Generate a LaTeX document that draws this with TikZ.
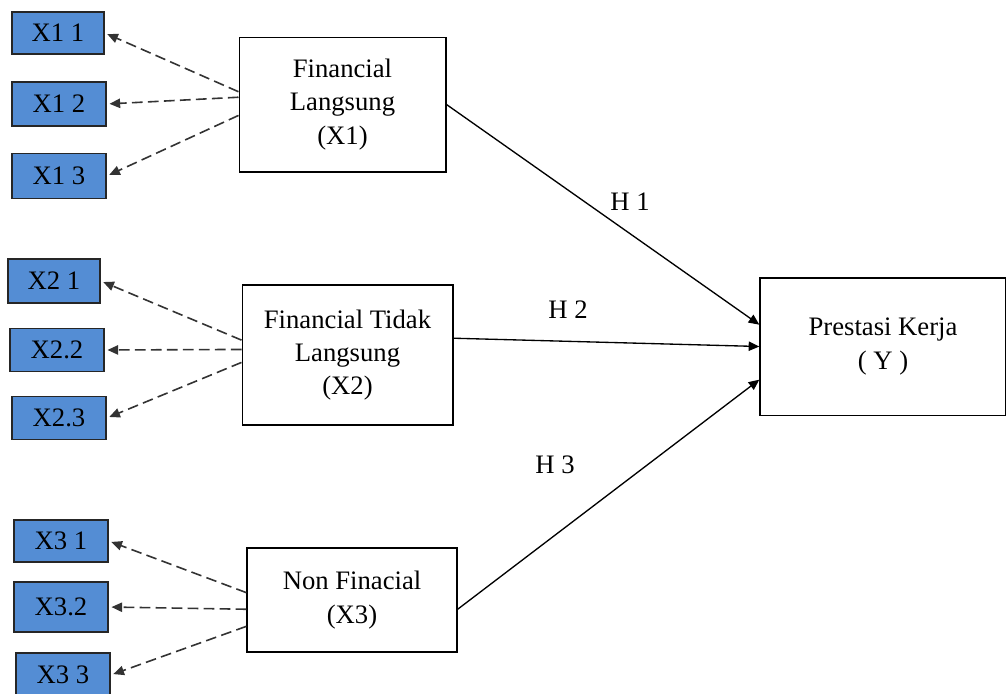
\documentclass[tikz,border=0pt]{standalone}
\usepackage{fontspec}
\setmainfont{Liberation Serif}
\usetikzlibrary{arrows.meta}

\tikzset{every picture/.style={line width=0.75pt}}
\tikzset{
  indbox/.style={draw=black!85, line width=1.2pt, fill=indblue, inner sep=0pt, font=\fontsize{20}{25}\selectfont},
  varbox/.style={draw, line width=1pt, inner sep=0pt, align=center, font=\fontsize{20}{25}\selectfont},
  dasharr/.style={dash pattern=on 8pt off 4pt, line width=1.2pt, draw=black!80, -{Triangle[length=8pt,width=7pt]}, shorten >=2pt},
  patharr/.style={line width=1pt, -{Triangle[length=8pt,width=7pt]}},
  hlabel/.style={font=\fontsize{20}{25}\selectfont}
}
\definecolor{indblue}{RGB}{84,141,212}

\begin{document}
\begin{tikzpicture}[x=0.75pt,y=0.75pt,yscale=-1,xscale=1]
		\useasboundingbox (0,0) rectangle (1006,693);
		%Shape: Rectangle [id:fl]
		\node (fl) at (342.5,104.5) [varbox, minimum width=155pt, minimum height=101pt] {Financial\\Langsung\\(X1)};
		%Shape: Rectangle [id:ftl]
		\node (ftl) at (347.5,355) [varbox, minimum width=158pt, minimum height=105pt] {Financial Tidak\\Langsung\\(X2)};
		%Shape: Rectangle [id:nf]
		\node (nf) at (352,600) [varbox, minimum width=157.5pt, minimum height=78pt] {Non Finacial\\(X3)};
		%Shape: Rectangle [id:pk]
		\node (pk) at (883,346.5) [varbox, minimum width=184.5pt, minimum height=103pt] {Prestasi Kerja\\( Y )};
		% Indicator boxes
		\node (x11) at (58,33) [indbox, minimum width=69pt, minimum height=31.5pt] {X1 1};
		\node (x12) at (59,104) [indbox, minimum width=70.5pt, minimum height=33pt] {X1 2};
		\node (x13) at (59,176) [indbox, minimum width=70.5pt, minimum height=34pt] {X1 3};
		\node (x21) at (54,281) [indbox, minimum width=69pt, minimum height=33pt] {X2 1};
		\node (x22) at (57,350) [indbox, minimum width=70.5pt, minimum height=32pt] {X2.2};
		\node (x23) at (59,418) [indbox, minimum width=70.5pt, minimum height=32pt] {X2.3};
		\node (x31) at (61,541) [indbox, minimum width=70.5pt, minimum height=31.5pt] {X3 1};
		\node (x32) at (61,607) [indbox, minimum width=70.5pt, minimum height=37.5pt] {X3.2};
		\node (x33) at (63,675) [indbox, minimum width=70.5pt, minimum height=33pt] {X3 3};
		% Dashed connectors
		\draw [dasharr] (fl.173) -- (x11.east);
		\draw [dasharr] (fl.176) -- (x12.east);
		\draw [dasharr] (fl.186) -- (x13.east);
		\draw [dasharr] (ftl.172) -- (x21.east);
		\draw [dasharr] (ftl.177) -- (x22.east);
		\draw [dasharr] (ftl.184) -- (x23.east);
		\draw [dasharr] (nf.176) -- (x31.east);
		\draw [dasharr] (nf.185) -- (x32.east);
		\draw [dasharr] (nf.194) -- (x33.east);
		% Hypothesis paths
		\draw [patharr] (fl.east) -- (pk.170);
		\draw [patharr] (ftl.9) -- (pk.west);
		\draw [patharr] (nf.355) -- (pk.195);
		% Text Node
		\node (h1) at (630,202) [hlabel] {H 1};
		% Text Node
		\node (h2) at (568,310) [hlabel] {H 2};
		% Text Node
		\node (h3) at (555,465) [hlabel] {H 3};
	\end{tikzpicture}
\end{document}
